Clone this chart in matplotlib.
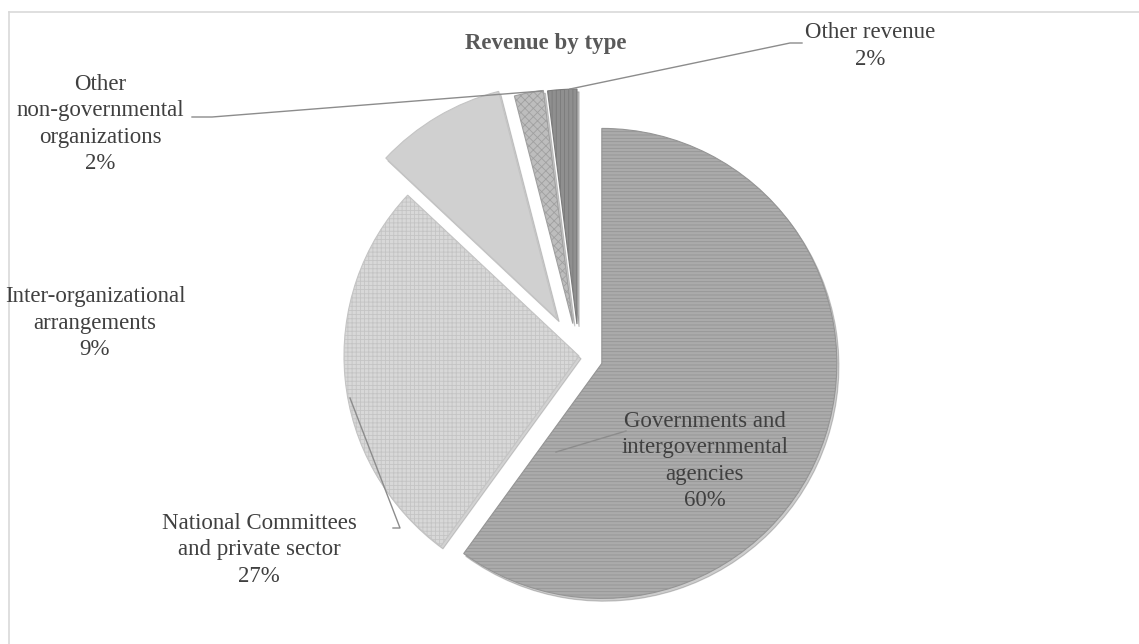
import matplotlib
matplotlib.use("Agg")
import matplotlib.pyplot as plt

# chart data
categories = [
    "Governments and\nintergovernmental\nagencies",
    "National Committees\nand private sector",
    "Inter-organizational\narrangements",
    "Other\nnon-governmental\norganizations",
    "Other revenue",
]
shares = [60, 27, 9, 2, 2]
title = "Revenue by type"

# look
face_colors = ["#ababab", "#d8d8d8", "#d0d0d0", "#bdbdbd", "#8f8f8f"]
hatch_colors = ["#959595", "#c4c4c4", "#c4c4c4", "#a0a0a0", "#7a7a7a"]
hatches = ["-----", "++++", "", "xxxx", "||||"]
explode_px = [24, 0, 43, 33, 32]
text_color = "#404040"
W, H = 1139, 644

plt.rcParams["font.family"] = ["Liberation Serif", "DejaVu Serif"]
plt.rcParams["hatch.linewidth"] = 0.6

fig = plt.figure(figsize=(W / 100, H / 100), dpi=100)
ax = fig.add_axes([0, 0, 1, 1])

wedges, _ = ax.pie(
    shares,
    explode=explode_px,
    center=(579, 356),
    radius=235,
    startangle=270,
    counterclock=True,
    colors=face_colors,
    wedgeprops=dict(linewidth=0.8),
    shadow=dict(ox=1.5, oy=2, shade=0.5, alpha=0.3),
)
for w, hc, hp in zip(wedges, hatch_colors, hatches):
    w.set_edgecolor(hc)
    w.set_hatch(hp)

ax.set_xlim(0, W)
ax.set_ylim(H, 0)
ax.set_aspect("auto")
ax.axis("off")

# chart frame (only top and left edges visible)
ax.plot([9, W], [12, 12], color="#d9d9d9", lw=1.2)
ax.plot([9, 9], [12, H], color="#d9d9d9", lw=1.2)

ax.text(546, 43, title, ha="center", va="center", fontsize=16.5,
        fontweight="bold", color="#595959")

# label positions (pixel coords of block centres)
label_pos = [(705, 461), (259, 550), (95, 323), (100, 124), (870, 46)]
for cat, pct, (lx, ly) in zip(categories, shares, label_pos):
    ax.text(lx, ly, f"{cat}\n{pct}%", ha="center", va="center",
            multialignment="center", fontsize=16.5, color=text_color,
            linespacing=1.35)

# leader lines
leader_color = "#8c8c8c"
leaders = [
    ([556, 626], [452, 431]),
    ([393, 400, 350], [528, 528, 398]),
    ([192, 212, 542], [117, 117, 91]),
    ([570, 790, 802], [89, 43, 43]),
]
for xs, ys in leaders:
    ax.plot(xs, ys, color=leader_color, lw=1.0)

fig.savefig("out.png", dpi=100)
